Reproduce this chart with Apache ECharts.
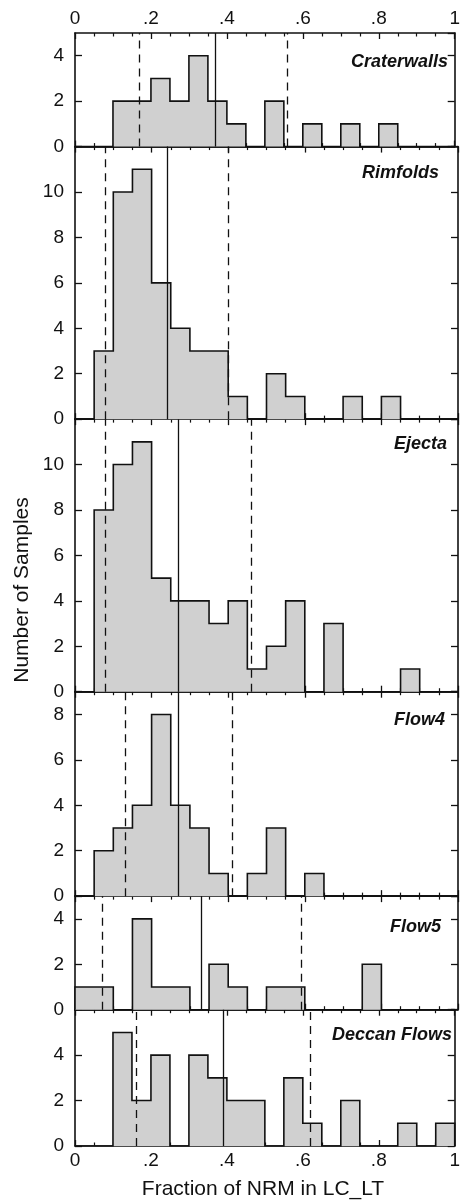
<!DOCTYPE html>
<html>
<head>
<meta charset="utf-8">
<script src="https://cdn.jsdelivr.net/npm/echarts@6/dist/echarts.min.js"></script>
<style>
  html, body { margin: 0; padding: 0; background: #fff; }
  #chart { width: 463px; height: 1204px; }
</style>
</head>
<body>
<div id="chart"></div>
<script>
// Histogram bins are 0.05 wide, from 0 to 1 (20 bins per panel)
const binWidth = 0.05;
const panelNames = ['Craterwalls', 'Rimfolds', 'Ejecta', 'Flow4', 'Flow5', 'Deccan Flows'];

// Sample counts per bin
const craterwalls = [0, 0, 2, 2, 3, 2, 4, 2, 1, 0, 2, 0, 1, 0, 1, 0, 1, 0, 0, 0];
const rimfolds    = [0, 3, 10, 11, 6, 4, 3, 3, 1, 0, 2, 1, 0, 0, 1, 0, 1, 0, 0, 0];
const ejecta      = [0, 8, 10, 11, 5, 4, 4, 3, 4, 1, 2, 4, 0, 3, 0, 0, 0, 1, 0, 0];
const flow4       = [0, 2, 3, 4, 8, 4, 3, 1, 0, 1, 3, 0, 1, 0, 0, 0, 0, 0, 0, 0];
const flow5       = [1, 1, 0, 4, 1, 1, 0, 2, 1, 0, 1, 1, 0, 0, 0, 2, 0, 0, 0, 0];
const deccan      = [0, 0, 5, 2, 4, 0, 4, 3, 2, 2, 0, 3, 1, 0, 2, 0, 0, 1, 0, 1];
const panelCounts = [craterwalls, rimfolds, ejecta, flow4, flow5, deccan];

// Mean (solid line) and lower / upper bounds (dashed lines)
const meanValues  = [0.366, 0.243, 0.271, 0.273, 0.326, 0.390];
const lowerValues = [0.172, 0.083, 0.081, 0.131, 0.065, 0.159];
const upperValues = [0.562, 0.404, 0.462, 0.414, 0.586, 0.622];

// Y-axis ranges per panel
const yMax = [5, 12, 12, 9, 5, 6];

// X tick labels
const xTickValues = [0, 0.2, 0.4, 0.6, 0.8, 1];
const xTickLabels = ['0', '.2', '.4', '.6', '.8', '1'];

// ---- layout ----
const plotTop = 33, plotBottom = 1146, plotLeft = 75, plotRight = 458;
const totalUnits = yMax.reduce((a, b) => a + b, 0);
const unitPx = (plotBottom - plotTop) / totalUnits;
const labelRight = [448, 439, 447, 445, 441, 452];
const labelDy = [29, 26, 25, 28, 31, 25];

const ink = '#111';
const fill = '#d0d0d0';
const fontFamily = '"Liberation Sans", Arial, Helvetica, sans-serif';

const grids = [], xAxes = [], yAxes = [], series = [], graphics = [];
let cursor = plotTop;

function fmtX(v) {
  const i = xTickValues.findIndex(t => Math.abs(t - v) < 1e-6);
  return i >= 0 ? xTickLabels[i] : '';
}

function tick(len) {
  return { show: true, inside: true, length: len, lineStyle: { color: ink, width: 1.3 } };
}
function minor() {
  return { show: true, splitNumber: 4, length: 3.5, lineStyle: { color: ink, width: 1.2 } };
}
function axisLine() {
  return { show: true, onZero: false, lineStyle: { color: ink, width: 1.6 } };
}

panelCounts.forEach((counts, p) => {
  const h = yMax[p] * unitPx;
  grids.push({ left: plotLeft, width: plotRight - plotLeft, top: cursor, height: h });

  const isFirst = p === 0, isLast = p === panelCounts.length - 1;
  // bottom x axis
  xAxes.push({
    type: 'value', gridIndex: p, position: 'bottom', min: 0, max: 1, interval: 0.2,
    axisLine: axisLine(), axisTick: tick(6), minorTick: minor(),
    splitLine: { show: false }, minorSplitLine: { show: false },
    axisLabel: { show: isLast, formatter: fmtX, color: ink, fontSize: 19, fontFamily, margin: 5 }
  });
  // top x axis
  xAxes.push({
    type: 'value', gridIndex: p, position: 'top', min: 0, max: 1, interval: 0.2,
    axisLine: axisLine(), axisTick: tick(6), minorTick: minor(),
    splitLine: { show: false }, minorSplitLine: { show: false },
    axisLabel: { show: isFirst, formatter: fmtX, color: ink, fontSize: 19, fontFamily, margin: 5 }
  });
  // left y axis
  yAxes.push({
    type: 'value', gridIndex: p, position: 'left', min: 0, max: yMax[p], interval: 2,
    axisLine: axisLine(), axisTick: tick(7),
    splitLine: { show: false },
    axisLabel: { show: true, showMaxLabel: false, color: ink, fontSize: 19, fontFamily, margin: 11,
      formatter: v => (v % 2 === 0 && v < yMax[p]) ? String(v) : '' }
  });
  // right y axis
  yAxes.push({
    type: 'value', gridIndex: p, position: 'right', min: 0, max: yMax[p], interval: 2,
    axisLine: axisLine(), axisTick: tick(7),
    splitLine: { show: false }, axisLabel: { show: false }
  });

  // step outline of the histogram
  const pts = [[0, 0]];
  counts.forEach((c, i) => {
    pts.push([i * binWidth, c]);
    pts.push([(i + 1) * binWidth, c]);
  });
  pts.push([1, 0]);

  series.push({
    type: 'line', xAxisIndex: 2 * p, yAxisIndex: 2 * p,
    data: pts, symbol: 'none', silent: true,
    lineStyle: { color: ink, width: 1.6, join: 'miter' },
    areaStyle: { color: fill, opacity: 1 },
    z: 2,
    markLine: {
      silent: true, symbol: ['none', 'none'], label: { show: false },
      animation: false,
      data: [
        { xAxis: meanValues[p], lineStyle: { color: ink, width: 1.3, type: 'solid' } },
        { xAxis: lowerValues[p], lineStyle: { color: ink, width: 1.3, type: [8, 6] } },
        { xAxis: upperValues[p], lineStyle: { color: ink, width: 1.3, type: [8, 6] } }
      ]
    }
  });

  graphics.push({
    type: 'text', x: labelRight[p], y: cursor + labelDy[p], z: 10,
    style: {
      text: panelNames[p], fill: ink, align: 'right', verticalAlign: 'middle',
      font: 'italic bold 18px ' + fontFamily
    }
  });

  cursor += h;
});

// axis titles
graphics.push({
  type: 'text', x: 263, y: 1189, z: 10,
  style: { text: 'Fraction of NRM in LC_LT', fill: ink, align: 'center', verticalAlign: 'middle',
    font: '21px ' + fontFamily }
});
graphics.push({
  type: 'text', x: 22, y: 590, rotation: Math.PI / 2, z: 10,
  style: { text: 'Number of Samples', fill: ink, align: 'center', verticalAlign: 'middle',
    font: '21px ' + fontFamily }
});

const chart = echarts.init(document.getElementById('chart'), null, { renderer: 'canvas' });
chart.setOption({
  animation: false,
  backgroundColor: '#fff',
  grid: grids,
  xAxis: xAxes,
  yAxis: yAxes,
  series: series,
  graphic: graphics
});
</script>
</body>
</html>
